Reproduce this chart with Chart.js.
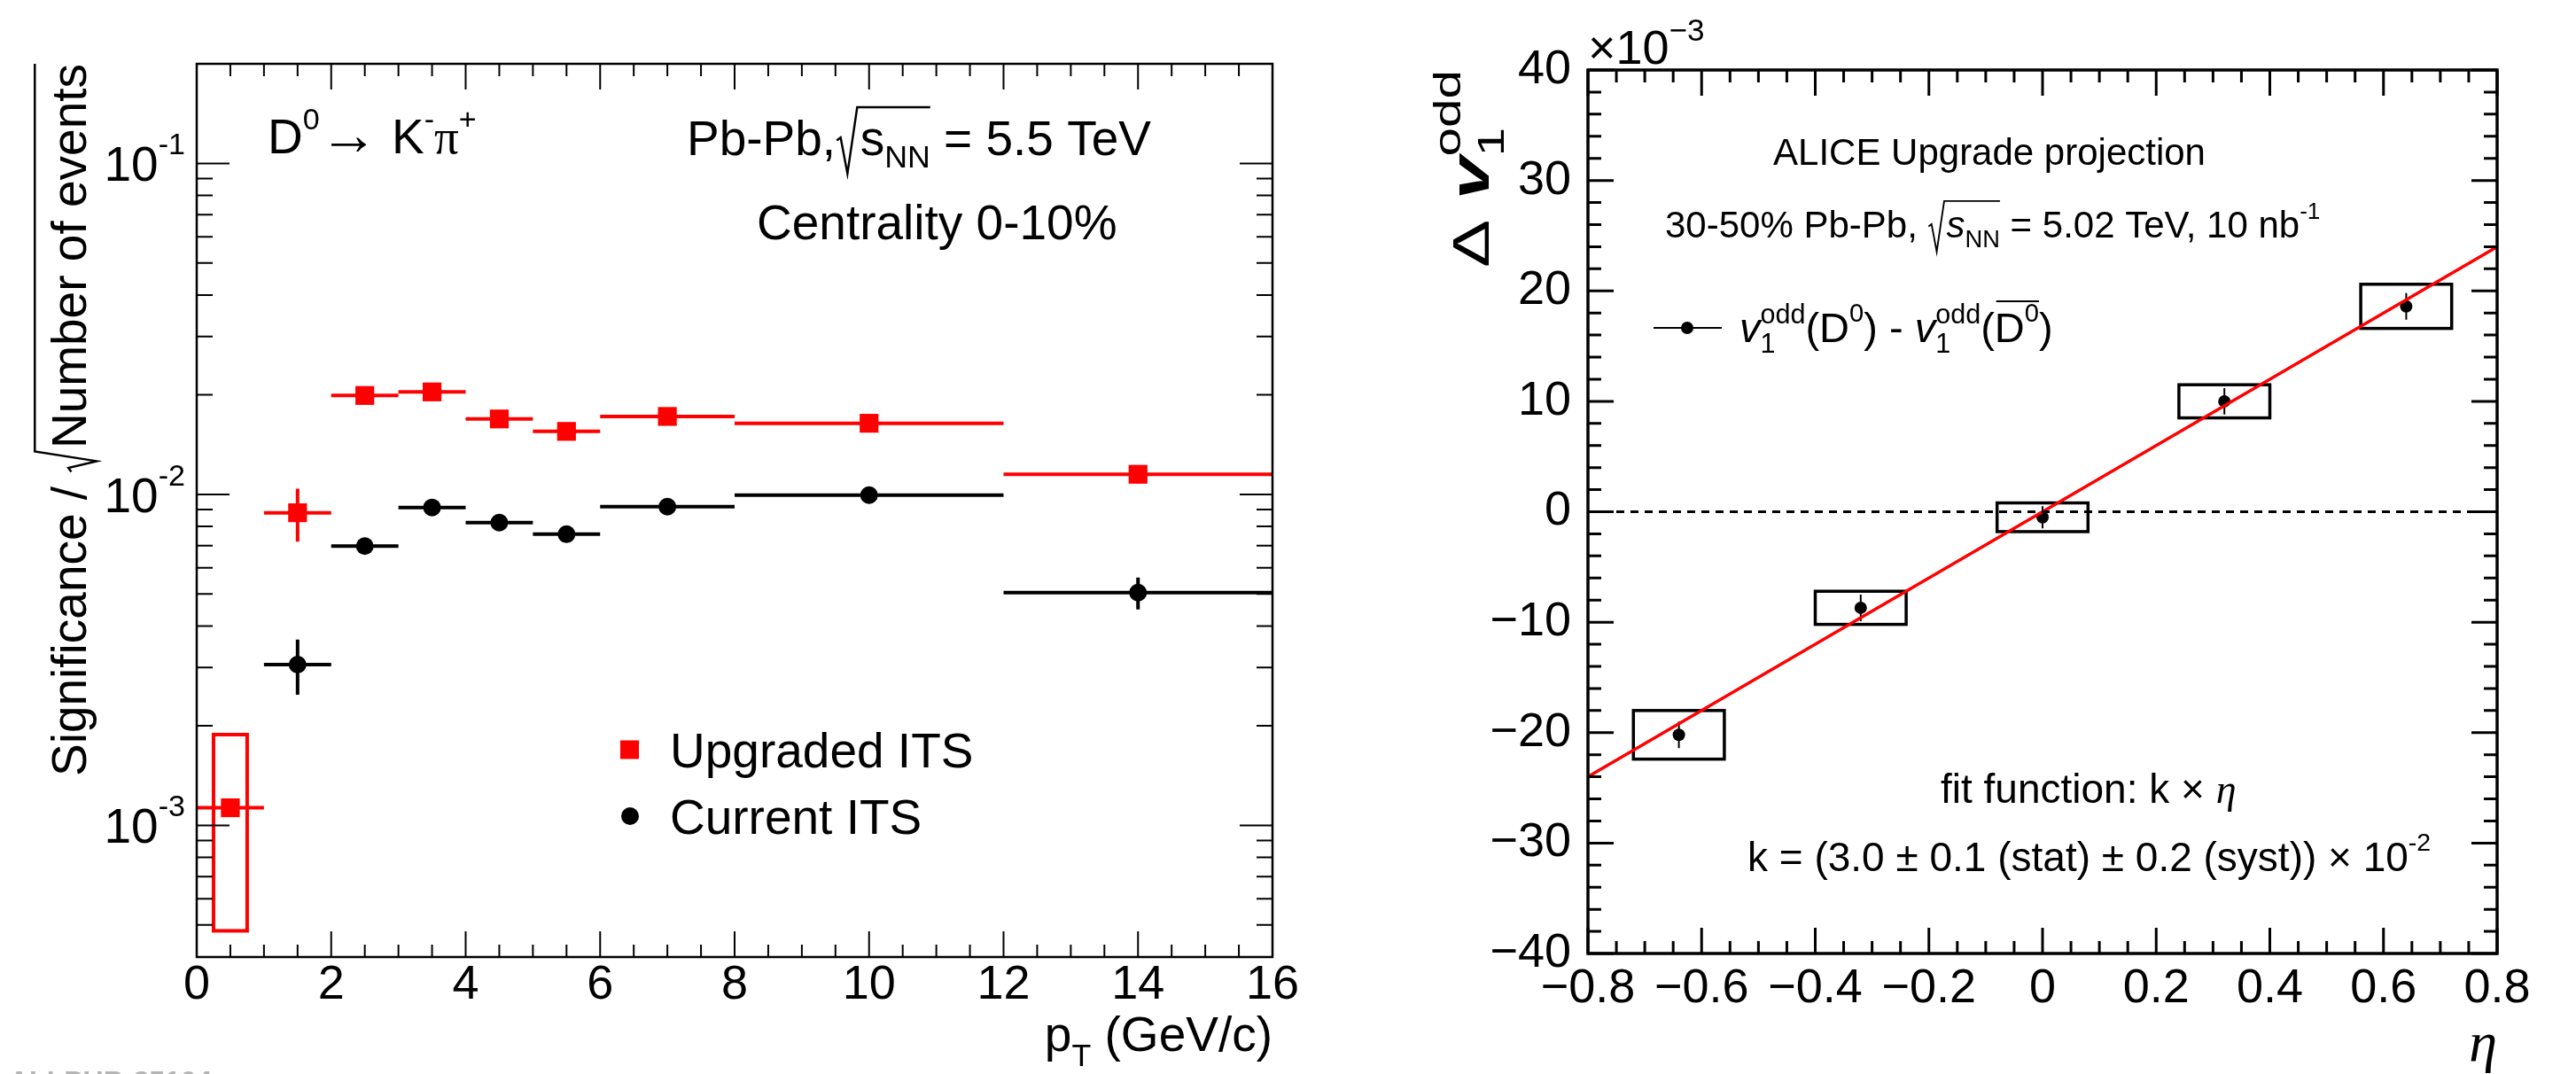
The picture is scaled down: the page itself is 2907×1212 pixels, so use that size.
<!DOCTYPE html>
<html lang="en">
<head>
<meta charset="UTF-8">
<title>D0 significance and v1 odd projection</title>
<script src="https://cdn.jsdelivr.net/npm/chart.js"></script>
<style>
    * { margin: 0; padding: 0; box-sizing: border-box; }
    body { background: #fff; width: 2907px; height: 1212px; overflow: hidden; position: relative; }
    canvas { position: absolute; top: 0; }
    #sigChart { left: 0; }
    #v1Chart { left: 1500px; }
</style>
</head>
<body>
<canvas id="sigChart" width="1500" height="1212"></canvas>
<canvas id="v1Chart" width="1407" height="1212"></canvas>
<script>
// ---- left panel: significance / sqrt(N events) vs pT
const ptBinCenter = [0.5, 1.5, 2.5, 3.5, 4.5, 5.5, 7, 10, 14];
const ptBinLow    = [0, 1, 2, 3, 4, 5, 6, 8, 12];
const ptBinHigh   = [1, 2, 3, 4, 5, 6, 8, 12, 16];
const upgradedSig = [0.00113, 0.0088, 0.0199, 0.0204, 0.0169, 0.0155, 0.0172, 0.0164, 0.0115];
const upgradedErr = [0.00005, 0.0016, 0.0004, 0.0004, 0.0003, 0.0003, 0.0003, 0.0003, 0.0002];
const upgradedSystPt = [0.5];
const upgradedSystHalfWidth = [0.25];
const upgradedSystLow = [0.00048];
const upgradedSystHigh = [0.00188];

const currentPt      = [1.5, 2.5, 3.5, 4.5, 5.5, 7, 10, 14];
const currentPtLow   = [1, 2, 3, 4, 5, 6, 8, 12];
const currentPtHigh  = [2, 3, 4, 5, 6, 8, 12, 16];
const currentSig     = [0.00306, 0.00698, 0.00913, 0.00822, 0.00758, 0.00918, 0.00995, 0.00505];
const currentErr     = [0.00058, 0.0002, 0.0002, 0.0002, 0.0002, 0.0002, 0.0002, 0.00056];

const sigDecades = [0.001, 0.01, 0.1];
const sigDecadeExp = ['-3', '-2', '-1'];

// ---- right panel: delta v1 odd (x 10^-3) vs eta
const etaPoints = [-0.64, -0.32, 0, 0.32, 0.64];
const dv1Values = [-20.2, -8.7, -0.5, 10.0, 18.6];
const dv1Stat   = [1.2, 1.2, 1.0, 1.2, 1.2];
const dv1Syst   = [2.2, 1.5, 1.3, 1.5, 2.0];
const dv1SystHalfEta = [0.08, 0.08, 0.08, 0.08, 0.08];
const fitEta = [-0.8, 0.8];
const fitDv1 = [-24, 24];
const zeroEta = [-0.8, 0.8];
const zeroDv1 = [0, 0];

const RED = '#ff0000';
const SANS = '"Liberation Sans", Arial, Helvetica, sans-serif';
const SERIF = '"Liberation Serif", "Times New Roman", serif';

// ---------- small rich-text helper (sub/superscripts, radicals, overbars)
function partFont(p, base) {
    return (p.it ? 'italic ' : '') + (p.bold ? 'bold ' : '') + (base * (p.s || 1)) + 'px ' + (p.f || SANS);
}
function partWidth(ctx, p, base) {
    if (p.sqrt) return base * 0.5 + richWidth(ctx, p.sqrt, base);
    if (p.over) return richWidth(ctx, p.over, base);
    if (p.stack) {
        return Math.max(...p.stack.map(q => { ctx.font = partFont(q, base); return ctx.measureText(q.t).width; }));
    }
    ctx.font = partFont(p, base);
    return ctx.measureText(p.t).width;
}
function richWidth(ctx, parts, base) {
    return parts.reduce((w, p) => w + partWidth(ctx, p, base), 0);
}
function drawParts(ctx, x, y, parts, base) {
    parts.forEach(p => {
        if (p.sqrt) {
            const inner = richWidth(ctx, p.sqrt, base);
            const top = y - base * (p.top || 0.95);
            const bot = y + base * (p.bot || 0.2);
            ctx.beginPath();
            ctx.lineWidth = base * 0.045;
            ctx.moveTo(x + base * 0.02, y - base * 0.3);
            ctx.lineTo(x + base * 0.1, y - base * 0.36);
            ctx.lineTo(x + base * 0.24, bot);
            ctx.lineTo(x + base * 0.44, top);
            ctx.lineTo(x + base * 0.5 + inner, top);
            ctx.stroke();
            drawParts(ctx, x + base * 0.5, y, p.sqrt, base);
            x += base * 0.5 + inner;
            return;
        }
        if (p.over) {
            const inner = richWidth(ctx, p.over, base);
            drawParts(ctx, x, y, p.over, base);
            ctx.beginPath();
            ctx.lineWidth = base * 0.04;
            ctx.moveTo(x + base * 0.04, y - base * (p.top || 0.95));
            ctx.lineTo(x + inner, y - base * (p.top || 0.95));
            ctx.stroke();
            x += inner;
            return;
        }
        if (p.stack) {
            p.stack.forEach(q => { ctx.font = partFont(q, base); ctx.fillText(q.t, x, y + (q.dy || 0) * base); });
            x += partWidth(ctx, p, base);
            return;
        }
        ctx.font = partFont(p, base);
        ctx.fillText(p.t, x, y + (p.dy || 0) * base);
        x += ctx.measureText(p.t).width;
    });
    return x;
}
function richText(ctx, x, y, parts, base, align, color) {
    ctx.save();
    ctx.fillStyle = color || '#000';
    ctx.strokeStyle = color || '#000';
    ctx.textBaseline = 'alphabetic';
    ctx.textAlign = 'left';
    const w = richWidth(ctx, parts, base);
    const x0 = align === 'right' ? x - w : (align === 'center' ? x - w / 2 : x);
    drawParts(ctx, x0, y, parts, base);
    ctx.restore();
}
const sup = (t, extra) => Object.assign({ t, s: 0.62, dy: -0.5 }, extra || {});
const sub = (t, extra) => Object.assign({ t, s: 0.65, dy: 0.25 }, extra || {});

// ---------- error bars and systematic boxes
const errorBarPlugin = {
    id: 'errorBars',
    beforeDatasetsDraw(chart) {
        const { ctx, chartArea: a, scales: { x, y } } = chart;
        ctx.save();
        ctx.beginPath();
        ctx.rect(a.left, a.top, a.right - a.left, a.bottom - a.top);
        ctx.clip();
        chart.data.datasets.forEach(ds => {
            if (ds.syst) {
                const s = ds.syst;
                ctx.strokeStyle = s.color;
                ctx.lineWidth = s.width;
                s.x.forEach((xv, i) => {
                    const l = x.getPixelForValue(xv - s.half[i]);
                    const r = x.getPixelForValue(xv + s.half[i]);
                    const t = y.getPixelForValue(s.high[i]);
                    const b = y.getPixelForValue(s.low[i]);
                    ctx.strokeRect(l, t, r - l, b - t);
                });
            }
            if (!ds.bars) return;
            const bars = ds.bars;
            ctx.strokeStyle = ds.borderColor;
            ctx.lineWidth = bars.width;
            ctx.beginPath();
            ds.data.forEach((pt, i) => {
                const px = x.getPixelForValue(pt.x);
                const py = y.getPixelForValue(pt.y);
                if (bars.xLow) {
                    ctx.moveTo(x.getPixelForValue(bars.xLow[i]), py);
                    ctx.lineTo(x.getPixelForValue(bars.xHigh[i]), py);
                }
                if (bars.yErr) {
                    ctx.moveTo(px, y.getPixelForValue(pt.y - bars.yErr[i]));
                    ctx.lineTo(px, y.getPixelForValue(pt.y + bars.yErr[i]));
                }
            });
            ctx.stroke();
        });
        ctx.restore();
    }
};

// ---------- ROOT-like frame with inward ticks on all four sides
const framePlugin = {
    id: 'rootFrame',
    afterDraw(chart, args, o) {
        const { ctx, chartArea: a, scales: { x, y } } = chart;
        ctx.save();
        ctx.strokeStyle = '#000';
        ctx.lineWidth = o.tickWidth;
        ctx.beginPath();
        o.xTicks.forEach(([v, len]) => {
            const px = x.getPixelForValue(v);
            ctx.moveTo(px, a.bottom); ctx.lineTo(px, a.bottom - len);
            ctx.moveTo(px, a.top); ctx.lineTo(px, a.top + len);
        });
        o.yTicks.forEach(([v, len]) => {
            const py = y.getPixelForValue(v);
            ctx.moveTo(a.left, py); ctx.lineTo(a.left + len, py);
            ctx.moveTo(a.right, py); ctx.lineTo(a.right - len, py);
        });
        ctx.stroke();
        ctx.lineWidth = o.frameWidth;
        ctx.strokeRect(a.left, a.top, a.right - a.left, a.bottom - a.top);
        ctx.restore();
    }
};

function linearTicks(min, max, major, minor, majorLen, minorLen) {
    const out = [];
    const n = Math.round((max - min) / minor);
    for (let i = 0; i <= n; i++) {
        const v = min + i * minor;
        const isMajor = Math.abs(Math.round((v - min) / major) * major - (v - min)) < 1e-9;
        out.push([v, isMajor ? majorLen : minorLen]);
    }
    return out;
}
function logTicks(min, max, majorLen, minorLen) {
    const out = [];
    for (let e = -5; e <= 1; e++) {
        for (let k = 1; k <= 9; k++) {
            const v = k * Math.pow(10, e);
            if (v >= min * 0.999 && v <= max * 1.001) out.push([v, k === 1 ? majorLen : minorLen]);
        }
    }
    return out;
}

// ---------- left panel texts
const sigTextPlugin = {
    id: 'sigText',
    afterDraw(chart) {
        const { ctx, chartArea: a, scales: { x, y } } = chart;
        const F = 55;
        richText(ctx, a.left + 80, a.top + 101, [
            { t: 'D' }, sup('0'), { t: '\u2192', s: 1.2, dy: 0.02 }, { t: ' K' }, sup('-'), { t: '\u03c0', f: SERIF }, sup('+')
        ], F);
        richText(ctx, a.left + 553, a.top + 103, [
            { t: 'Pb-Pb,' }, { sqrt: [{ t: 's' }, sub('NN')], top: 0.98, bot: 0.38 }, { t: ' = 5.5 TeV' }
        ], F);
        richText(ctx, a.left + 632, a.top + 198, [{ t: 'Centrality 0-10%' }], F);

        // legend
        const ly1 = a.top + 774, ly2 = a.top + 849;
        ctx.save();
        ctx.fillStyle = RED;
        ctx.fillRect(a.left + 478, ly1 - 10.5, 21, 21);
        ctx.fillStyle = '#000';
        ctx.beginPath();
        ctx.arc(a.left + 489, ly2, 10, 0, Math.PI * 2);
        ctx.fill();
        ctx.restore();
        richText(ctx, a.left + 534, ly1 + 20, [{ t: 'Upgraded ITS' }], F);
        richText(ctx, a.left + 534, ly2 + 20, [{ t: 'Current ITS' }], F);

        // log axis labels
        sigDecades.forEach((v, i) => {
            const py = y.getPixelForValue(v);
            richText(ctx, a.left - 13, py + 20, [{ t: '10' }, { t: sigDecadeExp[i], s: 0.62, dy: -0.55 }], 55, 'right');
        });

        // axis titles
        richText(ctx, a.right, a.bottom + 106, [{ t: 'p' }, sub('T', { dy: 0.3 }), { t: ' (GeV/c)' }], F, 'right');
        ctx.save();
        ctx.translate(a.left - 125, a.top);
        ctx.rotate(-Math.PI / 2);
        richText(ctx, 0, 0, [
            { t: 'Significance / ' }, { sqrt: [{ t: 'Number of events' }], top: 1.05, bot: 0.22 }
        ], 55, 'right');
        ctx.restore();

        ctx.save();
        ctx.font = 'bold 32px ' + SANS;
        ctx.fillStyle = '#b4b4b4';
        ctx.textBaseline = 'top';
        ctx.fillText('ALI-PUB-85104', 10, 1206);
        ctx.restore();
    }
};

// ---------- right panel texts
const v1TextPlugin = {
    id: 'v1Text',
    afterDraw(chart) {
        const { ctx, chartArea: a } = chart;
        richText(ctx, a.left, a.top - 7, [{ t: '\u00d710' }, { t: '\u22123', s: 0.65, dy: -0.48 }], 54);
        richText(ctx, a.left + 453, a.top + 107, [{ t: 'ALICE Upgrade projection' }], 42, 'center');
        richText(ctx, a.left + 87, a.top + 189, [
            { t: '30-50% Pb-Pb, ' }, { sqrt: [{ t: 's', it: true }, sub('NN')], top: 0.98, bot: 0.38 },
            { t: ' = 5.02 TeV, 10 nb' }, sup('-1')
        ], 42);

        // legend entry
        const lyy = a.top + 291;
        ctx.save();
        ctx.strokeStyle = '#000';
        ctx.lineWidth = 2;
        ctx.beginPath();
        ctx.moveTo(a.left + 74, lyy);
        ctx.lineTo(a.left + 151, lyy);
        ctx.stroke();
        ctx.beginPath();
        ctx.arc(a.left + 112, lyy, 7, 0, Math.PI * 2);
        ctx.fill();
        ctx.restore();
        const odd = { stack: [{ t: 'odd', s: 0.65, dy: -0.45 }, { t: '1', s: 0.65, dy: 0.25 }] };
        richText(ctx, a.left + 171, lyy + 16, [
            { t: 'v', it: true }, odd, { t: '(D' }, sup('0'), { t: ') - ' },
            { t: 'v', it: true }, odd, { t: '(' }, { over: [{ t: 'D' }, sup('0')], top: 0.98 }, { t: ')' }
        ], 47);

        richText(ctx, a.left + 398, a.top + 827, [{ t: 'fit function: k \u00d7 ' }, { t: '\u03b7', it: true, f: SERIF }], 46);
        richText(ctx, a.left + 180, a.top + 904, [
            { t: 'k = (3.0 \u00b1 0.1 (stat) \u00b1 0.2 (syst)) \u00d7 10' }, sup('-2')
        ], 46);

        // axis titles
        richText(ctx, a.right, a.bottom + 121, [{ t: '\u03b7', it: true, f: SERIF }], 64, 'right');
        ctx.save();
        ctx.translate(a.left - 112, a.top);
        ctx.rotate(-Math.PI / 2);
        ctx.scale(1.4, 1);
        richText(ctx, 0, 0, [
            { t: '\u0394 ' }, { t: 'v', it: true, bold: true, s: 1.08 }, { stack: [{ t: 'odd', s: 0.72, dy: -0.55 }, { t: '1', s: 0.72, dy: 0.3 }] }
        ], 58, 'right');
        ctx.restore();
    }
};

const minusFmt = v => {
    if (Math.abs(v) < 1e-9) return '0';
    return (v < 0 ? '\u2212' : '') + Math.abs(v).toFixed(1);
};

// ---------- left chart
new Chart(document.getElementById('sigChart'), {
    type: 'scatter',
    data: {
        datasets: [
            {
                label: 'Current ITS',
                data: currentPt.map((p, i) => ({ x: p, y: currentSig[i] })),
                pointStyle: 'circle', pointRadius: 10, pointBorderWidth: 0,
                backgroundColor: '#000', borderColor: '#000',
                bars: { xLow: currentPtLow, xHigh: currentPtHigh, yErr: currentErr, width: 4 }
            },
            {
                label: 'Upgraded ITS',
                data: ptBinCenter.map((p, i) => ({ x: p, y: upgradedSig[i] })),
                pointStyle: 'rect', pointRadius: 15, pointBorderWidth: 0,
                backgroundColor: RED, borderColor: RED,
                bars: { xLow: ptBinLow, xHigh: ptBinHigh, yErr: upgradedErr, width: 4 },
                syst: { x: upgradedSystPt, half: upgradedSystHalfWidth, low: upgradedSystLow, high: upgradedSystHigh, color: RED, width: 4 }
            }
        ]
    },
    options: {
        responsive: false,
        animation: false,
        events: [],
        layout: { padding: { left: 0, top: 72, right: 64, bottom: 0 } },
        scales: {
            x: {
                type: 'linear', min: 0, max: 16,
                afterFit: s => { s.height = 132; },
                grid: { display: false, drawTicks: false },
                border: { display: false },
                ticks: { stepSize: 2, color: '#000', font: { family: SANS, size: 54 }, padding: 0, maxRotation: 0, autoSkip: false }
            },
            y: {
                type: 'logarithmic', min: 0.0004, max: 0.2,
                afterFit: s => { s.width = 222; },
                grid: { display: false, drawTicks: false },
                border: { display: false },
                ticks: { display: false }
            }
        },
        plugins: {
            legend: { display: false },
            tooltip: { enabled: false },
            rootFrame: {
                frameWidth: 2.5, tickWidth: 2,
                xTicks: linearTicks(0, 16, 2, 0.5, 29, 14),
                yTicks: logTicks(0.0004, 0.2, 37, 18)
            }
        }
    },
    plugins: [errorBarPlugin, framePlugin, sigTextPlugin]
});

// ---------- right chart
new Chart(document.getElementById('v1Chart'), {
    type: 'scatter',
    data: {
        datasets: [
            {
                label: 'zero',
                data: zeroEta.map((e, i) => ({ x: e, y: zeroDv1[i] })),
                showLine: true, pointRadius: 0, borderColor: '#000', borderWidth: 3, borderDash: [9, 7]
            },
            {
                label: 'fit',
                data: fitEta.map((e, i) => ({ x: e, y: fitDv1[i] })),
                showLine: true, pointRadius: 0, borderColor: RED, borderWidth: 3.5
            },
            {
                label: 'v1 odd D0 - D0bar',
                data: etaPoints.map((e, i) => ({ x: e, y: dv1Values[i] })),
                pointStyle: 'circle', pointRadius: 7, pointBorderWidth: 0,
                backgroundColor: '#000', borderColor: '#000',
                bars: { yErr: dv1Stat, width: 2 },
                syst: {
                    x: etaPoints, half: dv1SystHalfEta,
                    low: dv1Values.map((v, i) => v - dv1Syst[i]),
                    high: dv1Values.map((v, i) => v + dv1Syst[i]),
                    color: '#000', width: 3.5
                }
            }
        ]
    },
    options: {
        responsive: false,
        animation: false,
        events: [],
        layout: { padding: { left: 0, top: 79, right: 89, bottom: 0 } },
        scales: {
            x: {
                type: 'linear', min: -0.8, max: 0.8,
                afterFit: s => { s.height = 136; },
                grid: { display: false, drawTicks: false },
                border: { display: false },
                ticks: { stepSize: 0.2, color: '#000', font: { family: SANS, size: 54 }, padding: 8, maxRotation: 0, autoSkip: false, callback: minusFmt }
            },
            y: {
                type: 'linear', min: -40, max: 40,
                afterFit: s => { s.width = 292; },
                grid: { display: false, drawTicks: false },
                border: { display: false },
                ticks: { stepSize: 10, color: '#000', font: { family: SANS, size: 54 }, padding: 19,
                    callback: v => (v < 0 ? '\u2212' : '') + Math.abs(v) }
            }
        },
        plugins: {
            legend: { display: false },
            tooltip: { enabled: false },
            rootFrame: {
                frameWidth: 3.5, tickWidth: 3,
                xTicks: linearTicks(-0.8, 0.8, 0.2, 0.05, 29, 14),
                yTicks: linearTicks(-40, 40, 10, 2, 29, 15)
            }
        }
    },
    plugins: [errorBarPlugin, framePlugin, v1TextPlugin]
});
</script>
</body>
</html>
